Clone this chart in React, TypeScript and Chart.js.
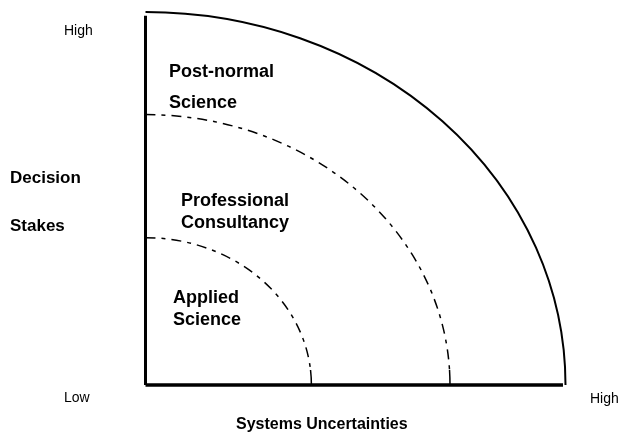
import React, { useEffect, useRef } from "react";
import { Chart, registerables } from "chart.js";

Chart.register(...registerables);

// Data
const regionNames = ["Applied Science", "Professional Consultancy", "Post-normal Science"];
const regionRadii = [3.95, 7.25, 10]; // boundary radius of each region (axis units, max = 10)
const axisEndX = [0, 9.94];
const axisEndY = [0, 9.9];
const axisLowLabel = "Low";
const axisHighLabel = "High";
const xAxisTitle = "Systems Uncertainties";
const yAxisTitle = ["Decision", "Stakes"];

// Layout (pixels) for the text
const regionLabelLayout = [
  { lines: ["Applied", "Science"], x: 173, y: [303, 325] },
  { lines: ["Professional", "Consultancy"], x: 181, y: [206, 228] },
  { lines: ["Post-normal", "Science"], x: 169, y: [77, 108] },
];

const arcsPlugin = {
  id: "arcs",
  afterDatasetsDraw(chart: any) {
    const { ctx } = chart;
    const xs = chart.scales.x;
    const ys = chart.scales.y;
    const cx = xs.getPixelForValue(0);
    const cy = ys.getPixelForValue(0);
    ctx.save();
    ctx.strokeStyle = "#000";
    regionRadii.forEach((r, i) => {
      const rx = xs.getPixelForValue(r) - cx;
      const ry = cy - ys.getPixelForValue(r);
      const outer = i === regionRadii.length - 1;
      if (outer) {
        ctx.lineWidth = 2;
        ctx.setLineDash([]);
        ctx.beginPath();
        ctx.ellipse(cx, cy, rx, ry, 0, -Math.PI / 2, 0);
        ctx.stroke();
      } else {
        const tEnd = -Math.asin(Math.min(1, 15 / ry));
        ctx.lineWidth = 1.5;
        ctx.setLineDash([10, 6, 4, 6]);
        ctx.beginPath();
        ctx.ellipse(cx, cy, rx, ry, 0, -Math.PI / 2, tEnd);
        ctx.stroke();
        ctx.setLineDash([]);
        ctx.beginPath();
        ctx.ellipse(cx, cy, rx, ry, 0, tEnd, 0);
        ctx.stroke();
      }
    });
    ctx.restore();
  },
  afterDraw(chart: any) {
    const { ctx } = chart;
    ctx.save();
    ctx.fillStyle = "#000";
    ctx.textBaseline = "alphabetic";
    ctx.textAlign = "left";
    ctx.font = "bold 18px 'Liberation Sans', Arial, sans-serif";
    regionLabelLayout.forEach((l) => {
      l.lines.forEach((t, j) => ctx.fillText(t, l.x, l.y[j]));
    });
    ctx.font = "bold 17px 'Liberation Sans', Arial, sans-serif";
    ctx.fillText(yAxisTitle[0], 10, 183);
    ctx.fillText(yAxisTitle[1], 10, 231);
    ctx.font = "14px 'Liberation Sans', Arial, sans-serif";
    ctx.fillText(axisHighLabel, 64, 35);
    ctx.fillText(axisLowLabel, 64, 402);
    ctx.fillText(axisHighLabel, 590, 403);
    ctx.font = "bold 16px 'Liberation Sans', Arial, sans-serif";
    ctx.fillText(xAxisTitle, 236, 429);
    ctx.restore();
  },
};

export default function App() {
  const ref = useRef<HTMLCanvasElement | null>(null);
  useEffect(() => {
    document.body.style.margin = "0";
    const canvas = ref.current;
    if (!canvas) return;
    const chart = new Chart(canvas, {
      type: "scatter",
      data: {
        datasets: [
          {
            label: "y-axis",
            data: [
              { x: 0, y: axisEndY[0] },
              { x: 0, y: axisEndY[1] },
            ],
            showLine: true,
            borderColor: "#000",
            borderWidth: 3,
            pointRadius: 0,
            clip: false,
          } as any,
          {
            label: "x-axis",
            data: [
              { x: axisEndX[0], y: 0 },
              { x: axisEndX[1], y: 0 },
            ],
            showLine: true,
            borderColor: "#000",
            borderWidth: 3.5,
            pointRadius: 0,
            clip: false,
          } as any,
        ],
      },
      options: {
        responsive: false,
        animation: false,
        layout: { padding: { left: 145.5, right: 53.5, top: 12, bottom: 47 } },
        scales: {
          x: { type: "linear", min: 0, max: 10, display: false },
          y: { type: "linear", min: 0, max: 10, display: false },
        },
        plugins: {
          legend: { display: false },
          tooltip: { enabled: false },
          title: { display: false },
        },
      },
      plugins: [arcsPlugin],
    });
    return () => chart.destroy();
  }, []);
  return (
    <canvas
      ref={ref}
      width={619}
      height={432}
      style={{ display: "block", width: 619, height: 432 }}
      aria-label={regionNames.join(", ")}
    />
  );
}
